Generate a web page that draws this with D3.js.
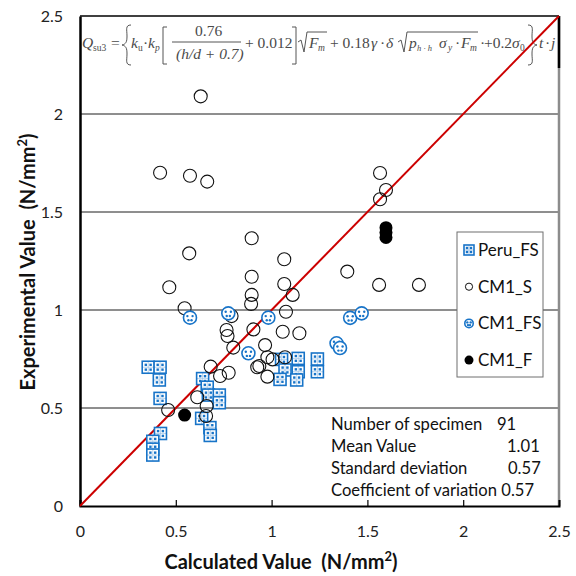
<!DOCTYPE html>
<html>
<head>
<meta charset="utf-8">
<script src="https://cdn.jsdelivr.net/npm/d3@7"></script>
<style>
  body { margin: 0; background: #fff; }
  svg { font-family: Lato, "Open Sans", sans-serif; }
</style>
</head>
<body>
<svg id="chart" width="576" height="576"></svg>
<script>
// [calculated, experimental] pairs
const peruFS = [
  [0.356, 0.708], [0.418, 0.708], [0.414, 0.643], [0.418, 0.549],
  [0.42, 0.37], [0.38, 0.33], [0.38, 0.29], [0.38, 0.26],
  [0.640, 0.650], [0.664, 0.606], [0.670, 0.566], [0.727, 0.566],
  [0.727, 0.527], [0.635, 0.447], [0.678, 0.40], [0.68, 0.36],
  [1.052, 0.748], [1.07, 0.694], [1.139, 0.753], [1.139, 0.685],
  [1.044, 0.646], [1.131, 0.643], [1.239, 0.750], [1.239, 0.685]
]
const cm1S = [
  [0.63, 2.09], [0.418, 1.70], [0.574, 1.685], [0.664, 1.655],
  [1.566, 1.699], [1.597, 1.612], [1.566, 1.565],
  [0.896, 1.366], [0.570, 1.289], [1.066, 1.259], [0.896, 1.17],
  [0.466, 1.116], [1.066, 1.133], [0.896, 1.077], [1.11, 1.077],
  [0.893, 1.031], [0.546, 1.009], [0.791, 0.969], [1.075, 0.991],
  [1.395, 1.196], [1.561, 1.128], [1.769, 1.128],
  [0.765, 0.898], [0.770, 0.867], [0.905, 0.901], [1.058, 0.889],
  [1.145, 0.881], [0.80, 0.808], [0.966, 0.821], [0.978, 0.759],
  [1.005, 0.748], [1.07, 0.759], [0.936, 0.714], [0.925, 0.708],
  [0.978, 0.660], [0.682, 0.711], [0.731, 0.663], [0.776, 0.680],
  [0.612, 0.555], [0.661, 0.510], [0.658, 0.459], [0.46, 0.49]
]
const cm1FS = [
  [0.574, 0.961], [0.774, 0.983], [0.983, 0.961], [0.879, 0.779],
  [1.339, 0.83], [1.357, 0.806], [1.41, 0.96], [1.47, 0.983]
]
const cm1F = [[1.597, 1.42], [1.597, 1.395], [1.597, 1.37], [0.546, 0.464]]

const ticks = [0, 0.5, 1, 1.5, 2, 2.5]
const tickLabels = ['0', '0.5', '1', '1.5', '2', '2.5']
const gridValues = [0.5, 1, 1.5, 2]
const legendNames = ['Peru_FS', 'CM1_S', 'CM1_FS', 'CM1_F']
const statLabels = ['Number of specimen', 'Mean Value', 'Standard deviation', 'Coefficient of variation 0.57']
const statValues = ['91', '1.01', '0.57']

const blue = '#1874c8'
const svg = d3.select('#chart')
const x = d3.scaleLinear().domain([0, 2.5]).range([80, 559])
const y = d3.scaleLinear().domain([0, 2.5]).range([506, 16])

// gridlines
svg.append('g').selectAll('line').data(gridValues).join('line')
  .attr('x1', x(0)).attr('x2', x(2.5))
  .attr('y1', d => y(d)).attr('y2', d => y(d))
  .attr('stroke', '#1e1e1e').attr('stroke-width', 1)

// frame
svg.append('line').attr('x1', x(2.5)).attr('x2', x(2.5)).attr('y1', y(2.5)).attr('y2', y(0))
  .attr('stroke', '#8c8c8c').attr('stroke-width', 2.5)
svg.append('line').attr('x1', x(0)).attr('x2', x(2.5)).attr('y1', y(2.5)).attr('y2', y(2.5))
  .attr('stroke', '#000').attr('stroke-width', 1.5)
svg.append('line').attr('x1', x(2.5)).attr('x2', x(2.5)).attr('y1', y(2.5)).attr('y2', 68)
  .attr('stroke', '#000').attr('stroke-width', 2.5)

// axes
const xAxis = d3.axisBottom(x).tickValues(ticks).tickFormat((d, i) => tickLabels[i]).tickSize(-6).tickPadding(20)
const gx = svg.append('g').attr('transform', `translate(0,${y(0)})`).call(xAxis)
gx.select('.domain').attr('stroke', '#000').attr('stroke-width', 2)
gx.selectAll('.tick line').attr('stroke', '#000').attr('stroke-width', 1.2)
gx.selectAll('.tick text').attr('font-size', 16).attr('fill', '#222').attr('font-family', 'Lato, sans-serif')

const yAxis = d3.axisLeft(y).tickValues(ticks).tickFormat((d, i) => tickLabels[i]).tickSize(0).tickPadding(17)
const gy = svg.append('g').attr('transform', `translate(${x(0)},0)`).call(yAxis)
gy.select('.domain').attr('stroke', '#000').attr('stroke-width', 2.5)
gy.selectAll('.tick text').attr('font-size', 16).attr('fill', '#222').attr('font-family', 'Lato, sans-serif')

// axis titles
const xt = svg.append('text').attr('x', 281).attr('y', 569).attr('text-anchor', 'middle')
  .attr('font-size', 20).attr('font-weight', 'bold').attr('fill', '#111').style('white-space', 'pre')
xt.append('tspan').text('Calculated Value  (N/mm')
xt.append('tspan').attr('font-size', 13).attr('dy', -8).text('2')
xt.append('tspan').attr('dy', 8).text(')')

const yt = svg.append('text').attr('transform', 'translate(35,262) rotate(-90)').attr('text-anchor', 'middle')
  .attr('font-size', 20).attr('font-weight', 'bold').attr('fill', '#111').style('white-space', 'pre')
yt.append('tspan').text('Experimental Value  (N/mm')
yt.append('tspan').attr('font-size', 13).attr('dy', -8).text('2')
yt.append('tspan').attr('dy', 8).text(')')

// formula
const fg = svg.append('g').attr('font-family', '"Liberation Serif", "DejaVu Serif", serif')
const fl = (tx, ty, s, opt = {}) => fg.append('text').attr('x', tx).attr('y', ty).attr('fill', '#4a4a4a')
  .attr('font-size', opt.size || 15.5).attr('font-style', opt.italic ? 'italic' : null).text(s)
fl(82, 48, 'Q', {italic: true})
fl(93, 51, 'su3', {size: 9.5})
fl(111, 48, '=')
fl(131, 48, 'k', {italic: true}); fl(138, 51, 'u', {size: 9.5})
fl(143, 48, '·'); fl(148, 48, 'k', {italic: true}); fl(155, 51, 'p', {size: 9.5, italic: true})
fl(195, 36, '0.76')
fl(176, 59, '(h/d + 0.7)', {italic: true})
fl(245, 48, '+ 0.012')
fl(309, 48, 'F', {italic: true}); fl(318, 51, 'm', {size: 9.5, italic: true})
fl(330, 48, '+ 0.18'); fl(371, 48, 'γ', {italic: true}); fl(380, 48, '·'); fl(386, 48, 'δ', {italic: true})
fl(409, 48, 'p', {italic: true}); fl(417, 51, 'h · h', {size: 8.5, italic: true})
fl(439, 48, 'σ', {italic: true}); fl(448, 51, 'y', {size: 9.5, italic: true})
fl(455, 48, '·'); fl(461, 48, 'F', {italic: true}); fl(470, 51, 'm', {size: 9.5, italic: true})
fl(480, 48, '·'); fl(484, 48, '+0.2'); fl(512, 48, 'σ', {italic: true}); fl(520, 51, '0', {size: 9.5})
fl(539, 48, 't', {italic: true}); fl(545, 48, '·'); fl(551, 48, 'j', {italic: true})
const fp = svg.append('g').attr('fill', 'none').attr('stroke', '#555').attr('stroke-width', 1)
fp.append('line').attr('x1', 172).attr('x2', 241).attr('y1', 42).attr('y2', 42)
fp.append('path').attr('d', 'M131,25 C125,25 127,30 127,36 C127,42 126,44 122,45 C126,46 127,48 127,54 C127,60 125,65 131,65')
fp.append('path').attr('d', 'M167,27 L163,27 L163,64 L167,64')
fp.append('path').attr('d', 'M292,27 L296,27 L296,64 L292,64')
fp.append('path').attr('d', 'M298,42 L301,40 L304,52 L307,32 L327,32')
fp.append('path').attr('d', 'M398,42 L401,40 L404,52 L407,32 L478,32')
fp.append('path').attr('d', 'M528,25 C534,25 532,30 532,36 C532,42 533,44 537,45 C533,46 532,48 532,54 C532,60 534,65 528,65')

// diagonal line
svg.append('line').attr('x1', x(0)).attr('y1', y(0)).attr('x2', x(2.5)).attr('y2', y(2.5))
  .attr('stroke', '#cc0000').attr('stroke-width', 2)

// markers
const drawPeru = (g, s) => {
  g.append('rect').attr('x', -s / 2).attr('y', -s / 2).attr('width', s).attr('height', s)
    .attr('fill', '#fff').attr('stroke', blue).attr('stroke-width', 1.6)
  const o = s * 0.2
  g.append('path').attr('d', `M${-s / 2},0 H${s / 2} M0,${-s / 2} V${s / 2}`).attr('stroke', blue).attr('stroke-width', 0.6).attr('opacity', 0.5)
  ;[[-o, -o], [o, -o], [-o, o], [o, o]].forEach(([dx, dy]) =>
    g.append('rect').attr('x', dx - 1.2).attr('y', dy - 1.2).attr('width', 2.4).attr('height', 2.4).attr('fill', blue))
}
const drawFS = (g, r) => {
  g.append('circle').attr('r', r).attr('fill', '#fff').attr('stroke', blue).attr('stroke-width', 1.6)
  const o = r * 0.4
  ;[[-o, -o * 0.6], [o, -o * 0.6], [-o * 0.6, o], [o * 0.6, o]].forEach(([dx, dy]) =>
    g.append('circle').attr('cx', dx).attr('cy', dy).attr('r', 1.2).attr('fill', blue))
}

svg.append('g').selectAll('g').data(peruFS).join('g')
  .attr('transform', d => `translate(${x(d[0])},${y(d[1])})`)
  .each(function() { drawPeru(d3.select(this), 12) })

svg.append('g').selectAll('circle').data(cm1S).join('circle')
  .attr('cx', d => x(d[0])).attr('cy', d => y(d[1])).attr('r', 6.5)
  .attr('fill', 'none').attr('stroke', '#111').attr('stroke-width', 1.1)

svg.append('g').selectAll('g').data(cm1FS).join('g')
  .attr('transform', d => `translate(${x(d[0])},${y(d[1])})`)
  .each(function() { drawFS(d3.select(this), 6.5) })

svg.append('g').selectAll('circle').data(cm1F).join('circle')
  .attr('cx', d => x(d[0])).attr('cy', d => y(d[1])).attr('r', 6.5).attr('fill', '#000')

// legend
const lg = svg.append('g').attr('transform', 'translate(457,232)')
lg.append('rect').attr('width', 86).attr('height', 145).attr('fill', '#fff').attr('stroke', '#6f6f6f').attr('stroke-width', 1)
const items = lg.selectAll('g').data(legendNames).join('g')
  .attr('transform', (d, i) => `translate(12,${18 + i * 36.7})`)
items.each(function(d, i) {
  const g = d3.select(this)
  if (i === 0) drawPeru(g, 10)
  else if (i === 1) g.append('circle').attr('r', 3.6).attr('fill', 'none').attr('stroke', '#111').attr('stroke-width', 1)
  else if (i === 2) drawFS(g, 4.2)
  else g.append('circle').attr('r', 4.5).attr('fill', '#000')
})
items.append('text').attr('x', 9).attr('y', 6).attr('font-size', 17).attr('fill', '#111').text(d => d)

// stats
const sg = svg.append('g').attr('font-size', 16.6).attr('fill', '#111')
sg.selectAll('.lab').data(statLabels).join('text').attr('class', 'lab')
  .attr('x', 331).attr('y', (d, i) => 430 + i * 22).text(d => d)
const valueX = [497, 507, 508]
sg.selectAll('.val').data(statValues).join('text').attr('class', 'val')
  .attr('x', (d, i) => valueX[i]).attr('y', (d, i) => 430 + i * 22).text(d => d)
</script>
</body>
</html>
